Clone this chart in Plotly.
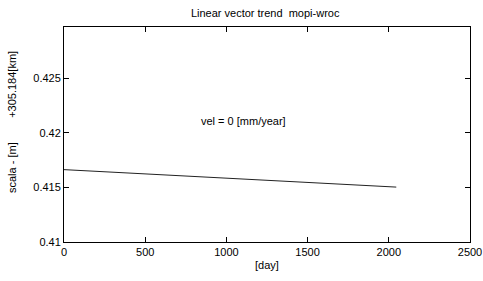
import plotly.graph_objects as go

days = [0, 2046]
trend = [0.41663, 0.41503]
x_ticks = [0, 500, 1000, 1500, 2000, 2500]
y_ticks = [0.41, 0.415, 0.42, 0.425]
y_tick_labels = ["0.41", "0.415", "0.42", "0.425"]
title_text = "Linear vector trend  mopi-wroc"
vel_text = "vel = 0 [mm/year]"
ylabel_text = "scala - [m]" + "\u00a0" * 8 + "+305.184[km]"

font = dict(family="Liberation Sans, Arial, sans-serif", size=11, color="#000000")

fig = go.Figure()
fig.add_trace(go.Scatter(x=days, y=trend, mode="lines",
                         line=dict(color="#222222", width=1), showlegend=False,
                         hoverinfo="skip"))

axis_common = dict(showgrid=False, zeroline=False, showline=True, linecolor="#000000",
                   linewidth=1, mirror="ticks", ticks="inside", ticklen=5,
                   tickcolor="#000000", tickfont=font, automargin=False)

fig.update_xaxes(range=[0, 2500], tickvals=x_ticks, ticktext=[str(v) for v in x_ticks],
                 title=dict(text="[day]", font=font, standoff=4), **axis_common)
fig.update_yaxes(range=[0.41, 0.4297], tickvals=y_ticks, ticktext=y_tick_labels,
                 **axis_common)

fig.add_annotation(x=830, y=0.4211, xref="x", yref="y", text=vel_text, showarrow=False,
                   xanchor="left", yanchor="middle", font=font)
fig.add_annotation(x=(12 - 64) / 406, y=0.558, xref="paper", yref="paper", text=ylabel_text,
                   textangle=-90, showarrow=False, font=font,
                   xanchor="center", yanchor="middle")

fig.update_layout(
    width=483, height=281,
    margin=dict(l=64, r=13, t=27, b=39, autoexpand=False),
    paper_bgcolor="white", plot_bgcolor="white",
    font=font,
    title=dict(text=title_text, x=0.549, xanchor="center", y=1 - 13 / 281, yanchor="middle",
               font=font, automargin=False),
)

fig.write_html("out.html", config={"displayModeBar": False},
               post_script="document.body.style.margin='0';document.body.style.padding='0';")
